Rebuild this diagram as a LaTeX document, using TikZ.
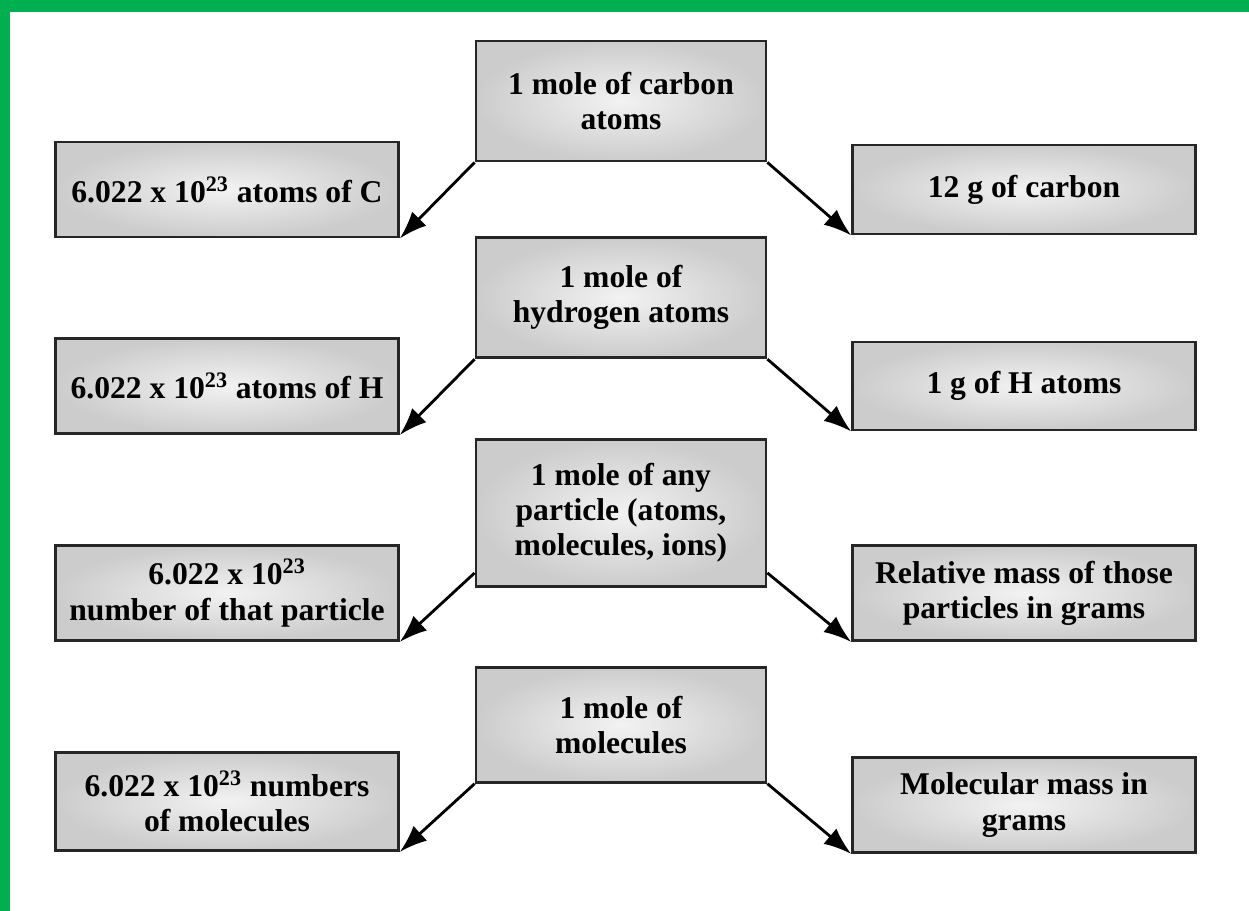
\documentclass[tikz,border=0pt]{standalone}
\usepackage{fontspec}
\setmainfont{Liberation Serif}
\usepackage{tikz}
\usetikzlibrary{positioning,arrows.meta}
\definecolor{frame green}{RGB}{0,176,80}

\begin{document}
\begin{tikzpicture}[x=0.02cm,y=-0.02cm,
    mole box/.style={rectangle,draw=black!85,line width=1.6pt,inner color=gray!10,outer color=gray!40,minimum width=5.8cm,minimum height=2.4cm,align=center,font=\fontsize{18}{20}\selectfont\bfseries,inner sep=2pt},
    side box/.style={rectangle,draw=black!85,line width=1.6pt,inner color=gray!10,outer color=gray!40,minimum width=6.86cm,minimum height=1.9cm,align=center,font=\fontsize{18}{20}\selectfont\bfseries,inner sep=2pt},
    link/.style={-{Latex[length=5.5mm,width=4mm]},line width=1.6pt,black}]
    \useasboundingbox (0,0) rectangle (1249,911);
    \fill[white] (0,0) rectangle (1249,911);
    \fill[frame green] (0,0) rectangle (1249,12);
    \fill[frame green] (0,0) rectangle (10,911);

    \node[mole box] (c1) at (621,101) {1 mole of carbon\\atoms};
    \node[mole box] (c2) [below = 1.48cm of c1] {1 mole of\\hydrogen atoms};
    \node[mole box,minimum height=2.94cm] (c3) [below = 1.58cm of c2] {1 mole of any\\particle (atoms,\\molecules, ions)};
    \node[mole box,minimum height=2.3cm] (c4) [below = 1.56cm of c3] {1 mole of\\molecules};

    \node[side box] (l1) at (227,189.5) {6.022 x 10\textsuperscript{23} atoms of C};
    \node[side box,minimum height=1.78cm] (r1) at (1024,189.5) {12 g of carbon};
    \node[side box] (l2) at (227,386) {6.022 x 10\textsuperscript{23} atoms of H};
    \node[side box,minimum height=1.76cm] (r2) at (1024,386) {1 g of H atoms};
    \node[side box] (l3) at (227,593) {6.022 x 10\textsuperscript{23}\\number of that particle};
    \node[side box] (r3) at (1024,593) {Relative mass of those\\particles in grams};
    \node[side box,minimum height=1.96cm] (l4) at (227,801.5) {6.022 x 10\textsuperscript{23} numbers\\of molecules};
    \node[side box] (r4) at (1024,805) {Molecular mass in\\grams};

    \path[link]
    (c1.south west) edge (l1.south east)
    (c1.south east) edge (r1.south west)
    (c2.south west) edge (l2.south east)
    (c2.south east) edge (r2.south west)
    ([yshift=0.3cm]c3.south west) edge (l3.south east)
    ([yshift=0.3cm]c3.south east) edge (r3.south west)
    (c4.south west) edge (l4.south east)
    (c4.south east) edge (r4.south west)
    ;
\end{tikzpicture}
\end{document}
